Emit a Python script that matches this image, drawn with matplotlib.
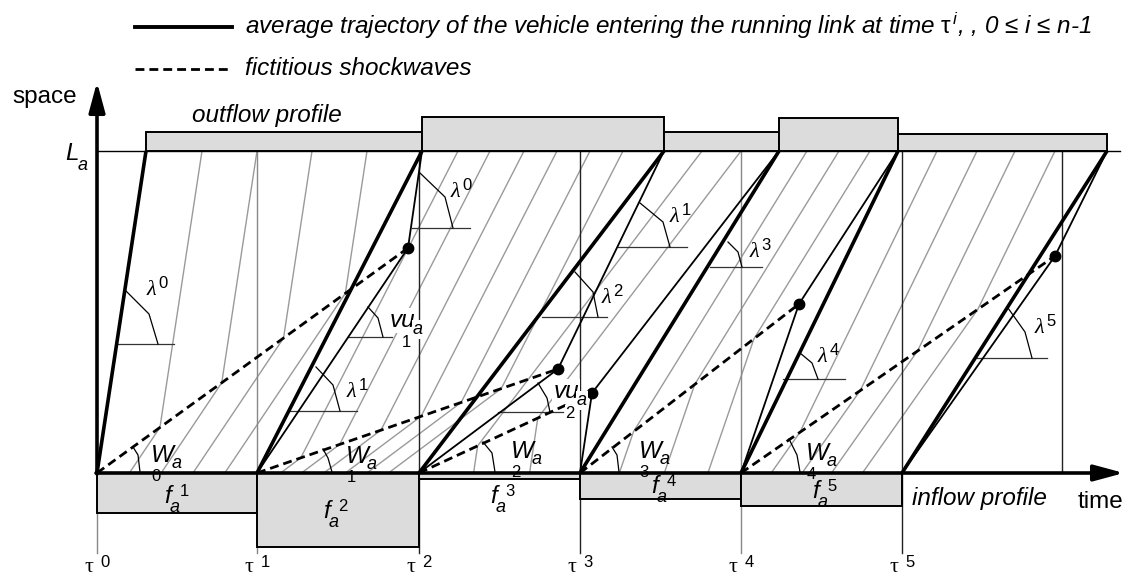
import matplotlib.pyplot as plt
from matplotlib.patches import Rectangle

plt.rcParams['font.family'] = ['Liberation Sans', 'DejaVu Sans']
plt.rcParams['mathtext.fontset'] = 'custom'
plt.rcParams['mathtext.rm'] = 'Liberation Sans'
plt.rcParams['mathtext.it'] = 'Liberation Sans:italic'

# Diagram coordinates (time to the right, space downward in the image frame)
axis_y = 473          # time axis (space = 0)
La_y = 151            # link end (space = L_a)
tau_x = [97, 257, 419, 580, 741, 902]
exit_x = [146, 422, 664, 779, 898, 1107]      # where trajectory of tau^i reaches L_a
dot_x = [408, 558, 592, 799, 1055]            # shock meets trajectory of tau^1..tau^5
dot_y = [248, 369, 393, 304, 256]
outflow_top = [132, 117, 132, 118, 134]
inflow_bottom = [513, 547, 479, 499, 506]
grey_exits = [[202, 257, 312, 367],
              [458, 490, 524, 557, 590, 623],
              [702, 741],
              [807, 839, 870],
              [937, 977, 1015, 1055]]
vline_x = [97, 257, 419, 580, 741, 902, 1062]
vline_top = [473, 151, 151, 151, 151, 151, 151]
vline_bottom = [553, 553, 553, 553, 553, 553, 473]
vline_color = ['#888888', '#888888', '#222222', '#222222', '#888888', '#222222', '#222222']

# angle markers: horizontal reference + arc
hlines = [(118, 174, 344), (412, 470, 228), (348, 392, 337), (290, 357, 411),
          (618, 687, 247), (542, 607, 317), (498, 563, 412), (710, 762, 267),
          (783, 845, 379), (977, 1047, 358)]
arcs = [[(125, 290), (149, 314), (158, 344)], [(420, 173), (445, 197), (453, 228)],
        [(368, 307), (378, 318), (383, 337)], [(316, 367), (333, 385), (340, 411)],
        [(640, 203), (663, 222), (670, 247)], [(575, 272), (593, 292), (598, 317)],
        [(538, 383), (547, 398), (550, 412)], [(728, 242), (738, 252), (742, 267)],
        [(800, 353), (812, 363), (818, 379)], [(1008, 308), (1025, 332), (1032, 358)],
        [(133, 447), (138, 455), (140, 472)], [(323, 449), (328, 458), (332, 472)],
        [(483, 442), (492, 453), (495, 472)], [(612, 447), (617, 455), (619, 472)],
        [(789, 439), (797, 455), (800, 472)]]

lam_pos = [(151, 295), (455, 197), (351, 397), (674, 222), (606, 303),
           (754, 257), (822, 362), (1039, 333)]
lam_idx = ['0', '0', '1', '1', '2', '3', '4', '5']
w_pos = [(162, 462), (357, 463), (522, 458), (650, 458), (817, 460)]
vu_pos = [(402, 327), (566, 398)]
f_pos = [(168, 503), (327, 518), (494, 503), (655, 493), (816, 498)]

fig = plt.figure(figsize=(11.24, 5.76), dpi=100)
ax = fig.add_axes([0, 0, 1, 1])
ax.set_xlim(0, 1124)
ax.set_ylim(576, 0)
ax.axis('off')


def grey_path(i, ex):
    t0 = tau_x[i]
    lam = (exit_x[i] - t0) / (axis_y - La_y)
    k = (dot_x[i] - tau_x[i + 1]) / (axis_y - dot_y[i])
    s = (dot_x[i] - t0) / (axis_y - dot_y[i])
    y = (t0 + s * axis_y - ex - lam * La_y) / (s - lam)
    xw = ex - lam * (y - La_y)
    xb = xw - k * (axis_y - y)
    return [ex, xw, xb], [La_y, y, axis_y]


# grey vehicle trajectories
for i, exits in enumerate(grey_exits):
    for ex in exits:
        xs, ys = grey_path(i, ex)
        ax.plot(xs, ys, color='#9a9a9a', lw=1.0, zorder=1)

# vertical guide lines
for x, y0, y1, c in zip(vline_x, vline_top, vline_bottom, vline_color):
    ax.plot([x, x], [y0, y1], color=c, lw=1.0, zorder=1.5)

# L_a line
ax.plot([97, 1120], [La_y, La_y], color='black', lw=1.0, zorder=2)

# outflow / inflow profiles
for i in range(5):
    ax.add_patch(Rectangle((exit_x[i], outflow_top[i]), exit_x[i + 1] - exit_x[i],
                           La_y - outflow_top[i], facecolor='#dcdcdc',
                           edgecolor='black', lw=1.4, zorder=2.5))
    ax.add_patch(Rectangle((tau_x[i], axis_y), tau_x[i + 1] - tau_x[i],
                           inflow_bottom[i] - axis_y, facecolor='#dcdcdc',
                           edgecolor='black', lw=1.4, zorder=2.5))

# angle markers
for x0, x1, y in hlines:
    ax.plot([x0, x1], [y, y], color='#333333', lw=0.9, zorder=3)
for arc in arcs:
    ax.plot([p[0] for p in arc], [p[1] for p in arc], color='black', lw=0.9, zorder=3)

# thin (real) trajectories through the shock points
for i in range(1, 6):
    ax.plot([tau_x[i], dot_x[i - 1], exit_x[i]], [axis_y, dot_y[i - 1], La_y],
            color='black', lw=1.3, zorder=4)

# fictitious shockwaves
for i in range(5):
    ax.plot([tau_x[i], dot_x[i]], [axis_y, dot_y[i]], color='black', lw=2.0,
            ls=(0, (3.2, 1.8)), zorder=4)

# average trajectories
for i in range(6):
    ax.plot([tau_x[i], exit_x[i]], [axis_y, La_y], color='black', lw=2.6,
            solid_capstyle='butt', zorder=5)

ax.plot(dot_x, dot_y, 'o', color='black', ms=7.5, zorder=6)

# axes arrows
ax.annotate('', xy=(97, 82), xytext=(97, axis_y + 1),
            arrowprops=dict(arrowstyle='-|>,head_length=1.3,head_width=0.35',
                            mutation_scale=14, lw=2.6, color='black',
                            shrinkA=0, shrinkB=0), zorder=6)
ax.annotate('', xy=(1124, axis_y), xytext=(96, axis_y),
            arrowprops=dict(arrowstyle='-|>,head_length=1.3,head_width=0.35',
                            mutation_scale=14, lw=2.6, color='black',
                            shrinkA=0, shrinkB=0), zorder=6)

# legend
ax.plot([135, 232], [27, 27], color='black', lw=2.8)
ax.plot([135, 232], [69, 69], color='black', lw=2.0, ls=(0, (3.2, 1.8)))
ax.text(245, 34, r'average trajectory of the vehicle entering the running link at time '
        r'$\mathrm{\tau}^{\,i}$, , 0 ≤ $i$ ≤ $n$-1', fontsize=17.5, style='italic',
        va='baseline')
ax.text(245, 75, 'fictitious shockwaves', fontsize=17.5, style='italic', va='baseline')

# axis texts
ax.text(12, 103, 'space', fontsize=17.5, va='baseline')
ax.text(72, 160, 'L', fontsize=17.5, style='italic', ha='center', va='baseline')
ax.text(83, 170, 'a', fontsize=13, style='italic', ha='center', va='baseline')
ax.text(192, 122, 'outflow profile', fontsize=17.5, style='italic', va='baseline')
ax.text(912, 505, 'inflow profile', fontsize=17.5, style='italic', va='baseline')
ax.text(1078, 508, 'time', fontsize=17.5, va='baseline')

for i, x in enumerate(tau_x):
    ax.text(x - 8, 572, 'τ', family='Liberation Serif', fontsize=16, ha='center',
            va='baseline')
    ax.text(x + 8, 567, str(i), fontsize=12, ha='center', va='baseline')

for (x, y), d in zip(lam_pos, lam_idx):
    ax.text(x, y, 'λ', family='Liberation Serif', style='italic', fontsize=16,
            ha='center', va='baseline', zorder=7)
    ax.text(x + 12, y - 7, d, fontsize=12, ha='center', va='baseline', zorder=7)

for i, (x, y) in enumerate(w_pos):
    ax.text(x, y, 'W', fontsize=17.5, style='italic', ha='center', va='baseline', zorder=7)
    ax.text(x + 15, y + 6, 'a', fontsize=13, style='italic', ha='center', va='baseline', zorder=7)
    ax.text(x - 6, y + 19, str(i), fontsize=12, ha='center', va='baseline', zorder=7)

for i, (x, y) in enumerate(vu_pos):
    ax.text(x, y, 'vu', fontsize=17.5, style='italic', ha='center', va='baseline', zorder=7,
            bbox=dict(facecolor='white', edgecolor='none', pad=0.5))
    ax.text(x + 16, y + 7, 'a', fontsize=13, style='italic', ha='center', va='baseline', zorder=7,
            bbox=dict(facecolor='white', edgecolor='none', pad=0.5))
    ax.text(x + 4, y + 20, str(i + 1), fontsize=12, ha='center', va='baseline', zorder=7,
            bbox=dict(facecolor='white', edgecolor='none', pad=0.5))

for i, (x, y) in enumerate(f_pos):
    ax.text(x, y, 'f', fontsize=17.5, style='italic', ha='center', va='baseline', zorder=7)
    ax.text(x + 7, y + 9, 'a', fontsize=13, style='italic', ha='center', va='baseline', zorder=7)
    ax.text(x + 16, y - 7, str(i + 1), fontsize=12, ha='center', va='baseline', zorder=7)

fig.savefig('out.png', dpi=100)
